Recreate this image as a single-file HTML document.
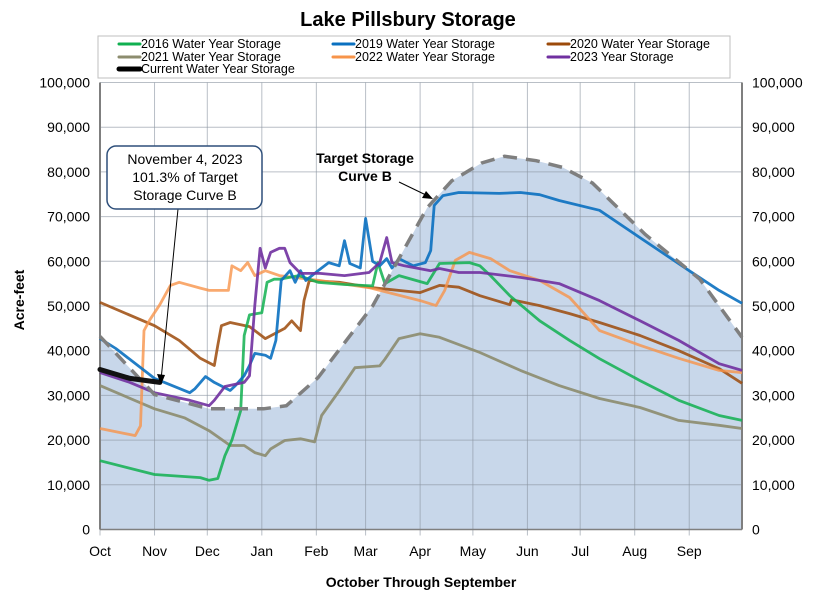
<!DOCTYPE html>
<html><head><meta charset="utf-8">
<style>
html,body{margin:0;padding:0;background:#fff;}
svg{display:block;font-family:"Liberation Sans",Arial,sans-serif;}
</style></head>
<body>
<svg id="chart" width="817" height="599" viewBox="0 0 817 599" xmlns="http://www.w3.org/2000/svg">
<text x="408" y="26" text-anchor="middle" font-size="20" font-weight="bold" fill="#000">Lake Pillsbury Storage</text>
<g id="legend"></g>
<g id="plot"></g>
<text transform="translate(24,300) rotate(-90)" text-anchor="middle" font-size="14" font-weight="bold">Acre-feet</text>
<text x="421" y="587" text-anchor="middle" font-size="14" font-weight="bold">October Through September</text>
<g>
<line x1="178" y1="209" x2="161" y2="380" stroke="#000" stroke-width="1"/>
<polygon points="161,385 157,374 165,375" fill="#000"/>
<rect x="107" y="146" width="155" height="63" rx="9" ry="9" fill="#fff" stroke="#2e4f7a" stroke-width="1.5"/>
<text x="185" y="164" text-anchor="middle" font-size="14">November 4, 2023</text>
<text x="185" y="182" text-anchor="middle" font-size="14">101.3% of Target</text>
<text x="185" y="200" text-anchor="middle" font-size="14">Storage Curve B</text>
</g>
<g>
<text x="365" y="163" text-anchor="middle" font-size="14" font-weight="bold">Target Storage</text>
<text x="365" y="181" text-anchor="middle" font-size="14" font-weight="bold">Curve B</text>
<line x1="399" y1="182" x2="428" y2="196" stroke="#000" stroke-width="1"/>
<polygon points="433,199 422,198 426,191" fill="#000"/>
</g>
</svg>
<script>
const NS="http://www.w3.org/2000/svg";
const monthLabels=["Oct","Nov","Dec","Jan","Feb","Mar","Apr","May","Jun","Jul","Aug","Sep"];
const monthStartDays=[0,31,61,92,123,151,182,212,243,273,304,335];
const yTicks=[0,10000,20000,30000,40000,50000,60000,70000,80000,90000,100000];
const targetDays=[0,31,62,93,106,124,155,186,200,217,230,248,263,280,310,341,365];
const targetVals=[43200,30200,27000,27000,27700,34000,50000,72000,78000,82000,83500,82500,81000,77500,66000,56000,43000];
const days2016=[0,31,57,62,67,71,75,80,82,85,92,95,99,102,113,124,139,155,158,162,170,186,193,210,216,222,233,250,267,284,307,329,352,365];
const vals2016=[15400,12300,11600,11000,11400,16500,20000,26600,43400,48000,48500,55300,56000,56000,56800,55300,54800,54500,59700,55000,56800,55000,59500,59700,59000,56800,52300,46700,42300,38200,33300,28900,25500,24400];
const days2019=[0,9,31,51,54,60,65,74,77,82,85,88,94,97,100,103,108,111,114,117,124,130,136,139,142,148,151,155,159,163,166,170,178,185,188,190,195,204,227,239,250,261,284,301,318,335,352,365];
const vals2019=[42700,40500,33800,30600,31500,34200,32900,31100,32200,34400,36700,39400,39000,38300,42300,55700,57900,55300,57900,55700,57900,59700,59000,64600,59500,58500,69600,60000,59000,60600,58500,60600,59000,59700,62400,72500,74700,75400,75200,75400,74900,73600,71400,66900,62400,57900,53500,50600];
const days2020=[0,31,45,57,65,67,69,74,85,94,105,109,114,116,119,136,155,182,193,204,216,233,234,250,267,284,307,329,352,365];
const vals2020=[50800,45600,42300,38300,36700,41200,45600,46300,45400,42700,45000,46700,44500,51200,55700,55300,54100,53000,54600,54200,52300,50300,51400,50100,48300,46300,43400,40000,36000,32700];
const days2021=[0,31,48,62,74,82,88,94,97,105,114,122,126,136,145,159,162,170,182,193,216,239,261,284,307,329,352,365];
const vals2021=[32200,27000,25000,22100,18800,18800,17200,16500,18000,19900,20300,19600,25500,31000,36200,36600,38100,42700,43800,43000,39600,35600,32200,29300,27300,24400,23300,22600];
const days2022=[0,20,23,25,28,31,34,40,45,57,62,73,75,80,84,88,94,102,125,153,182,191,196,202,210,222,233,250,267,284,307,329,352,365];
const vals2022=[22600,21000,23200,44500,46700,48500,50300,54600,55300,54000,53500,53500,59000,57900,59700,56800,57900,56800,55700,54100,51200,50100,53500,60200,62000,60600,57900,55700,51900,44500,41200,38300,35600,35100];
const days2023=[0,17,31,51,62,65,71,77,82,85,88,91,94,97,102,105,108,114,125,139,153,159,163,166,173,188,193,204,216,239,261,284,307,329,352,365];
const vals2023=[35100,32900,30600,28900,27700,28900,32000,32500,32900,34400,50100,62900,58500,62000,62900,62900,59700,57300,57300,56800,57500,59700,65300,59700,59000,57900,58400,57500,57500,56400,55000,51200,46700,42300,37100,35600];
const daysCurrent=[0,17,34];
const valsCurrent=[35800,33800,32900];

const X0=100,X1=742,Y0=529.5,Y1=82.5;
const xs=d=>X0+d*(X1-X0)/365;
const ys=v=>Y0-v/100000*(Y0-Y1);
const plot=document.getElementById('plot');
function mk(tag,attrs,parent){const e=document.createElementNS(NS,tag);for(const k in attrs)e.setAttribute(k,attrs[k]);(parent||plot).appendChild(e);return e;}
function pts(d,v){return d.map((dd,i)=>xs(dd).toFixed(1)+","+ys(v[i]).toFixed(1)).join(" ");}

const fillPts=xs(0)+","+Y0+" "+pts(targetDays,targetVals)+" "+xs(365)+","+Y0;
const area=mk('polygon',{points:fillPts,fill:'#c8d7ea'});


yTicks.forEach(v=>{
  const g=mk('line',{x1:X0,x2:X1,y1:ys(v),y2:ys(v),stroke:'#8a94a0','stroke-width':1,'stroke-opacity':0.6});
  
  
  const t1=mk('text',{x:90,y:ys(v)+5,'text-anchor':'end','font-size':14,fill:'#000'});t1.textContent=v.toLocaleString('en-US');
  
  
  const t2=mk('text',{x:752,y:ys(v)+5,'text-anchor':'start','font-size':14,fill:'#000'});t2.textContent=v.toLocaleString('en-US');
  
  
});
monthStartDays.forEach((d,i)=>{
  const g=mk('line',{x1:xs(d),x2:xs(d),y1:Y1,y2:Y0+6,stroke:'#8a94a0','stroke-width':1,'stroke-opacity':0.6});
  
  
  const t=mk('text',{x:xs(d),y:556,'text-anchor':'middle','font-size':14,fill:'#000'});t.textContent=monthLabels[i];
  
  
});
const ax=mk('line',{x1:X0,x2:X1,y1:Y0,y2:Y0,stroke:'#7f7f7f','stroke-width':1.5});


const al=mk('line',{x1:X0,x2:X0,y1:Y1,y2:Y0,stroke:'#7f7f7f','stroke-width':2});


const ar=mk('line',{x1:X1,x2:X1,y1:Y1,y2:Y0,stroke:'#7f7f7f','stroke-width':2});



const series=[
 ['series-2021',days2021,vals2021,'#8c8c6e',2.8,0.9],
 ['series-2020',days2020,vals2020,'#9c4a0a',2.8,0.85],
 ['series-2022',days2022,vals2022,'#f7944a',2.8,0.8],
 ['series-2016',days2016,vals2016,'#10b050',2.8,0.85],
 ['series-2019',days2019,vals2019,'#0a70c0',2.8,0.9],
 ['series-2023',days2023,vals2023,'#7030a0',2.8,0.9],
];
series.forEach(s=>{
  const p=mk('polyline',{points:pts(s[1],s[2]),fill:'none',stroke:s[3],'stroke-width':s[4],'stroke-opacity':s[5],'stroke-linejoin':'round'});
  
  
});
const tl=mk('polyline',{points:pts(targetDays,targetVals),fill:'none',stroke:'#7f7f7f','stroke-width':3.5,'stroke-dasharray':'14 9'});


const cur=mk('polyline',{points:pts(daysCurrent,valsCurrent),fill:'none',stroke:'#111','stroke-width':5,'stroke-linecap':'round'});



const lg=document.getElementById('legend');
const box=mk('rect',{x:98,y:36,width:632,height:42,fill:'#fff',stroke:'#bfbfbf','stroke-width':1},lg);


const legendItems=[
 ['2016 Water Year Storage','#10b050',119,48,3],
 ['2019 Water Year Storage','#0a70c0',333,48,3],
 ['2020 Water Year Storage','#9c4a0a',548,48,3],
 ['2021 Water Year Storage','#8c8c6e',119,61,3],
 ['2022 Water Year Storage','#f7944a',333,61,3],
 ['2023 Year Storage','#7030a0',548,61,3],
 ['Current Water Year Storage','#000',119,73,5],
];
legendItems.forEach(it=>{
  const g=mk('g',{},lg);
  
  
  mk('line',{x1:it[2],x2:it[2]+21,y1:it[3]-4,y2:it[3]-4,stroke:it[1],'stroke-width':it[4],'stroke-linecap':'round'},g);
  const t=mk('text',{x:it[2]+22,y:it[3],'font-size':12.5,fill:'#000'},g);t.textContent=it[0];
});
</script>
</body></html>
